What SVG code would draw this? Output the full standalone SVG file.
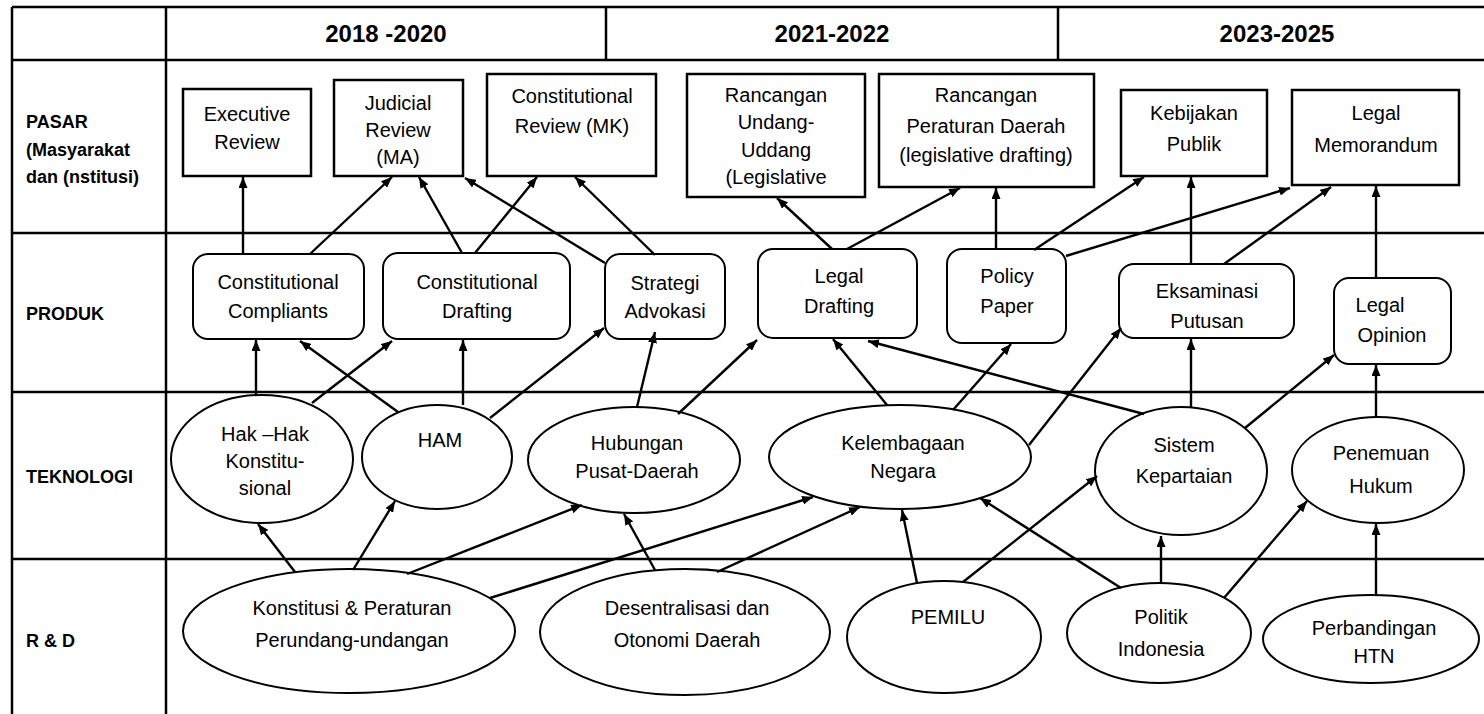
<svg xmlns="http://www.w3.org/2000/svg" width="1484" height="714" viewBox="0 0 1484 714">
<defs>
<marker id="ah" markerUnits="userSpaceOnUse" markerWidth="11" markerHeight="9" refX="11" refY="4.5" orient="auto"><path d="M0,0 L11,4.5 L0,9 z" fill="#000"/></marker>
<style>
.grid{stroke:#000;stroke-width:2.5;fill:none}
.box{fill:#fff;stroke:#000;stroke-width:2.5}
.rbox{fill:#fff;stroke:#000;stroke-width:2}
.ell{fill:#fff;stroke:#000;stroke-width:2}
.t{font-family:"Liberation Sans",Arial,sans-serif;font-size:20px;fill:#000;text-anchor:middle}
.lab{font-family:"Liberation Sans",Arial,sans-serif;font-size:18px;font-weight:bold;fill:#000}
.hdr{font-family:"Liberation Sans",Arial,sans-serif;font-size:24px;font-weight:bold;fill:#000;text-anchor:middle}
.c line{stroke:#000;stroke-width:2.4;marker-end:url(#ah)}
</style>
</defs>
<rect width="1484" height="714" fill="#fff"/>
<g id="table">
<line class="grid" x1="12" y1="7" x2="1484" y2="7"/>
<line class="grid" x1="12" y1="60" x2="1484" y2="60"/>
<line class="grid" x1="12" y1="233" x2="1484" y2="233"/>
<line class="grid" x1="12" y1="392" x2="1484" y2="392"/>
<line class="grid" x1="12" y1="559" x2="1484" y2="559"/>
<line class="grid" x1="12" y1="7" x2="12" y2="714"/>
<line class="grid" x1="166" y1="7" x2="166" y2="714"/>
<line class="grid" x1="606" y1="7" x2="606" y2="60"/>
<line class="grid" x1="1058" y1="7" x2="1058" y2="60"/>
<text class="hdr" x="386" y="42">2018 -2020</text>
<text class="hdr" x="832" y="42">2021-2022</text>
<text class="hdr" x="1277" y="42">2023-2025</text>
<text class="lab" x="26" y="128">PASAR</text>
<text class="lab" x="26" y="156">(Masyarakat</text>
<text class="lab" x="26" y="183">dan (nstitusi)</text>
<text class="lab" x="26" y="320">PRODUK</text>
<text class="lab" x="26" y="483">TEKNOLOGI</text>
<text class="lab" x="26" y="647">R &amp; D</text>
</g>
<g id="executive-review"><rect class="box" x="183" y="89" width="128" height="87"/><text class="t" x="247" y="121">Executive</text><text class="t" x="247" y="149">Review</text></g>
<g id="judicial-review"><rect class="box" x="334" y="80" width="129" height="96"/><text class="t" x="398" y="110">Judicial</text><text class="t" x="398" y="137">Review</text><text class="t" x="398" y="164">(MA)</text></g>
<g id="constitutional-review"><rect class="box" x="487" y="74" width="169" height="102"/><text class="t" x="572" y="103">Constitutional</text><text class="t" x="572" y="133">Review (MK)</text></g>
<g id="ruu"><rect class="box" x="687" y="74" width="178" height="123"/><text class="t" x="776" y="102">Rancangan</text><text class="t" x="776" y="129">Undang-</text><text class="t" x="776" y="157">Uddang</text><text class="t" x="776" y="184">(Legislative</text></g>
<g id="raperda"><rect class="box" x="879" y="74" width="215" height="113"/><text class="t" x="986" y="102">Rancangan</text><text class="t" x="986" y="133">Peraturan Daerah</text><text class="t" x="986" y="162">(legislative drafting)</text></g>
<g id="kebijakan-publik"><rect class="box" x="1121" y="90" width="146" height="86"/><text class="t" x="1194" y="120">Kebijakan</text><text class="t" x="1194" y="151">Publik</text></g>
<g id="legal-memorandum"><rect class="box" x="1292" y="90" width="167" height="95"/><text class="t" x="1376" y="120">Legal</text><text class="t" x="1376" y="152">Memorandum</text></g>
<g id="constitutional-compliants"><rect class="rbox" x="193" y="254" width="171" height="85" rx="15"/><text class="t" x="278" y="289">Constitutional</text><text class="t" x="278" y="318">Compliants</text></g>
<g id="constitutional-drafting"><rect class="rbox" x="383" y="253" width="187" height="86" rx="15"/><text class="t" x="477" y="289">Constitutional</text><text class="t" x="477" y="318">Drafting</text></g>
<g id="strategi-advokasi"><rect class="rbox" x="605" y="254" width="120" height="85" rx="15"/><text class="t" x="665" y="290">Strategi</text><text class="t" x="665" y="318">Advokasi</text></g>
<g id="legal-drafting"><rect class="rbox" x="758" y="249" width="159" height="89" rx="15"/><text class="t" x="839" y="283">Legal</text><text class="t" x="839" y="313">Drafting</text></g>
<g id="policy-paper"><rect class="rbox" x="947" y="249" width="119" height="94" rx="15"/><text class="t" x="1007" y="283">Policy</text><text class="t" x="1007" y="313">Paper</text></g>
<g id="eksaminasi-putusan"><rect class="rbox" x="1119" y="264" width="175" height="74" rx="15"/><text class="t" x="1207" y="298">Eksaminasi</text><text class="t" x="1207" y="328">Putusan</text></g>
<g id="legal-opinion"><rect class="rbox" x="1334" y="278" width="117" height="86" rx="15"/><text class="t" x="1380" y="312">Legal</text><text class="t" x="1392" y="342">Opinion</text></g>
<g id="hak-hak"><ellipse class="ell" cx="262" cy="459" rx="91" ry="64"/><text class="t" x="265" y="441">Hak –Hak</text><text class="t" x="265" y="468">Konstitu-</text><text class="t" x="265" y="495">sional</text></g>
<g id="ham"><ellipse class="ell" cx="437" cy="457" rx="75" ry="52"/><text class="t" x="440" y="447">HAM</text></g>
<g id="hubungan"><ellipse class="ell" cx="634" cy="460" rx="106" ry="53"/><text class="t" x="637" y="450">Hubungan</text><text class="t" x="637" y="478">Pusat-Daerah</text></g>
<g id="kelembagaan"><ellipse class="ell" cx="900" cy="457" rx="131" ry="52"/><text class="t" x="903" y="450">Kelembagaan</text><text class="t" x="903" y="478">Negara</text></g>
<g id="sistem-kepartaian"><ellipse class="ell" cx="1181" cy="471" rx="86" ry="64"/><text class="t" x="1184" y="452">Sistem</text><text class="t" x="1184" y="483">Kepartaian</text></g>
<g id="penemuan-hukum"><ellipse class="ell" cx="1378" cy="470" rx="86" ry="53"/><text class="t" x="1381" y="460">Penemuan</text><text class="t" x="1381" y="493">Hukum</text></g>
<g id="konstitusi"><ellipse class="ell" cx="349" cy="631" rx="166" ry="62"/><text class="t" x="352" y="615">Konstitusi &amp; Peraturan</text><text class="t" x="352" y="647">Perundang-undangan</text></g>
<g id="desentralisasi"><ellipse class="ell" cx="685" cy="632" rx="145" ry="63"/><text class="t" x="687" y="615">Desentralisasi dan</text><text class="t" x="687" y="647">Otonomi Daerah</text></g>
<g id="pemilu"><ellipse class="ell" cx="944" cy="637" rx="97" ry="56"/><text class="t" x="948" y="624">PEMILU</text></g>
<g id="politik-indonesia"><ellipse class="ell" cx="1159" cy="633" rx="92" ry="50"/><text class="t" x="1161" y="624">Politik</text><text class="t" x="1161" y="656">Indonesia</text></g>
<g id="perbandingan-htn"><ellipse class="ell" cx="1371" cy="639" rx="108" ry="44"/><text class="t" x="1374" y="635">Perbandingan</text><text class="t" x="1374" y="663">HTN</text></g>
<g id="connectors" class="c">
<line x1="243" y1="254" x2="243" y2="177"/>
<line x1="310" y1="254" x2="392" y2="177"/>
<line x1="462" y1="253" x2="419" y2="177"/>
<line x1="475" y1="253" x2="537" y2="177"/>
<line x1="605" y1="263" x2="465" y2="178"/>
<line x1="655" y1="255" x2="575" y2="177"/>
<line x1="832" y1="249" x2="777" y2="198"/>
<line x1="847" y1="249" x2="960" y2="188"/>
<line x1="996" y1="249" x2="996" y2="188"/>
<line x1="1034" y1="250" x2="1144" y2="177"/>
<line x1="1066" y1="256" x2="1290" y2="188"/>
<line x1="1191" y1="264" x2="1191" y2="177"/>
<line x1="1224" y1="264" x2="1331" y2="187"/>
<line x1="1376" y1="278" x2="1376" y2="186"/>
<line x1="256" y1="395" x2="256" y2="340"/>
<line x1="312" y1="403" x2="392" y2="341"/>
<line x1="398" y1="412" x2="300" y2="341"/>
<line x1="463" y1="405" x2="463" y2="340"/>
<line x1="490" y1="418" x2="604" y2="328"/>
<line x1="637" y1="407" x2="655" y2="332"/>
<line x1="678" y1="414" x2="757" y2="340"/>
<line x1="887" y1="405" x2="833" y2="339"/>
<line x1="953" y1="410" x2="1011" y2="344"/>
<line x1="1144" y1="414" x2="868" y2="341"/>
<line x1="1029" y1="445" x2="1121" y2="328"/>
<line x1="1191" y1="407" x2="1191" y2="339"/>
<line x1="1245" y1="428" x2="1334" y2="355"/>
<line x1="1376" y1="417" x2="1376" y2="365"/>
<line x1="295" y1="572" x2="258" y2="524"/>
<line x1="353" y1="570" x2="395" y2="501"/>
<line x1="407" y1="574" x2="582" y2="505"/>
<line x1="490" y1="598" x2="813" y2="497"/>
<line x1="655" y1="570" x2="624" y2="514"/>
<line x1="717" y1="572" x2="860" y2="507"/>
<line x1="917" y1="583" x2="902" y2="510"/>
<line x1="963" y1="582" x2="1097" y2="476"/>
<line x1="1121" y1="588" x2="980" y2="498"/>
<line x1="1161" y1="583" x2="1161" y2="536"/>
<line x1="1224" y1="598" x2="1307" y2="501"/>
<line x1="1376" y1="595" x2="1376" y2="524"/>
</g>
</svg>
